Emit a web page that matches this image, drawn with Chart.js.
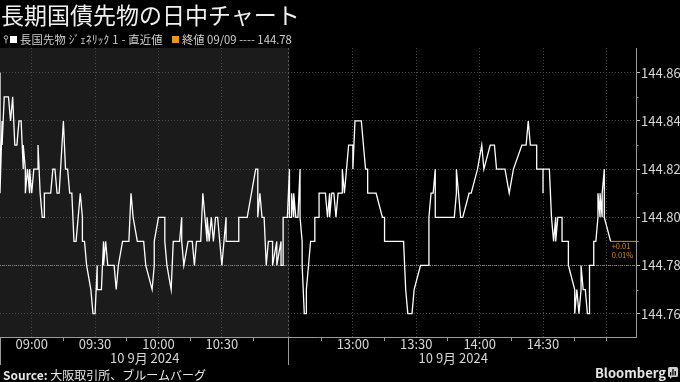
<!DOCTYPE html>
<html>
<head>
<meta charset="utf-8">
<script src="https://cdn.jsdelivr.net/npm/chart.js@4.4.1/dist/chart.umd.min.js"></script>
<style>
html,body{margin:0;padding:0;background:#000;}
#wrap{position:relative;width:680px;height:382px;overflow:hidden;background:#000;font-family:"Noto Sans CJK JP","Noto Sans",sans-serif;}
#c{position:absolute;left:0;top:0;}
.t{position:absolute;white-space:nowrap;}
#title{left:1px;top:0px;font-size:23px;line-height:28px;color:#f0f0f0;}
.leg{top:32px;font-size:11.3px;line-height:15px;color:#cfcfcf;}
#leg1{letter-spacing:0.2px;}
.sq{position:absolute;width:7px;height:7px;top:36px;}
#source{left:3px;top:368px;font-size:12px;line-height:14px;color:#e6e6e6;}
#source b{font-weight:700;}
#bbg{left:595px;top:365px;font-size:13px;line-height:16px;font-weight:700;color:#e6e6e6;}
</style>
</head>
<body>
<div id="wrap">
  <canvas id="c" width="680" height="382"></canvas>
  <div class="t" id="title">長期国債先物の日中チャート</div>
  <svg style="position:absolute;left:3px;top:35px" width="6" height="9" viewBox="0 0 6 9">
    <circle cx="3" cy="2.5" r="1.8" fill="none" stroke="#bdbdbd" stroke-width="1"/>
    <line x1="3" y1="4.3" x2="3" y2="8.5" stroke="#bdbdbd" stroke-width="1"/>
  </svg>
  <div class="sq" style="left:10px;background:#ffffff"></div>
  <div class="t leg" id="leg1" style="left:20px"></div>
  <div class="sq" style="left:172px;background:#e8961e"></div>
  <div class="t leg" id="leg2" style="left:182px"></div>
  <div class="t" id="source"><b>Source:</b> 大阪取引所、ブルームバーグ</div>
  <div class="t" id="bbg">Bloomberg</div>
  <svg style="position:absolute;left:668px;top:367px" width="10" height="12" viewBox="0 0 10 12">
    <rect x="0" y="0" width="10" height="10" rx="1.5" fill="#d0d0d0"/>
    <path d="M2 10 L2 12 L4 10 Z" fill="#d0d0d0"/>
    <rect x="2" y="5" width="1.3" height="3.5" fill="#000"/>
    <rect x="4.3" y="2" width="1.3" height="6.5" fill="#000"/>
    <rect x="6.6" y="4" width="1.3" height="4.5" fill="#000"/>
  </svg>
</div>
<script>
// ---- data ----
const seriesName = "長国先物 ｼﾞｪﾈﾘｯｸ 1 - 直近値";
const prevCloseDate = "09/09";
const prevClose = 144.78;
const sessionDate = "10 9月 2024";
const amSession = ["08:45", "11:02"];
const pmSession = ["12:30", "15:05"];
const axisEnd = "15:14";

const amTimes = ["08:45","08:45","08:46","08:46","08:47","08:49","08:50","08:51","08:52","08:53",
"08:54","08:55","08:56","08:56","08:57","08:57","08:58","08:59","08:59","09:00",
"09:01","09:03","09:03","09:04","09:05","09:06","09:06","09:09","09:10","09:11",
"09:12","09:13","09:15","09:16","09:17","09:18","09:19","09:20","09:21","09:22",
"09:23","09:24","09:24","09:25","09:26","09:28","09:29","09:30","09:31","09:31",
"09:33","09:34","09:34","09:35","09:36","09:39","09:40","09:41","09:43","09:46",
"09:47","09:48","09:50","09:53","09:54","09:57","09:58","09:58","10:00","10:03",
"10:03","10:04","10:06","10:07","10:10","10:11","10:11","10:12","10:14","10:16",
"10:17","10:18","10:20","10:21","10:22","10:23","10:23","10:24","10:25","10:26",
"10:27","10:28","10:30","10:32","10:32","10:38","10:38","10:42","10:46","10:47",
"10:47","10:48","10:49","10:50","10:51","10:52","10:54","10:54","10:56","10:56",
"10:58","10:58","10:59","10:59","11:01"];
const amValues = [144.86,144.81,144.84,144.83,144.85,144.85,144.84,144.85,144.83,144.83,
144.84,144.84,144.82,144.83,144.82,144.81,144.82,144.81,144.82,144.81,
144.82,144.82,144.83,144.81,144.80,144.80,144.81,144.81,144.82,144.82,
144.81,144.81,144.84,144.82,144.82,144.81,144.81,144.79,144.79,144.80,
144.81,144.80,144.79,144.79,144.78,144.77,144.76,144.76,144.78,144.77,
144.77,144.79,144.78,144.79,144.78,144.78,144.77,144.78,144.79,144.79,
144.81,144.80,144.79,144.79,144.78,144.77,144.78,144.79,144.80,144.80,
144.79,144.78,144.77,144.79,144.79,144.80,144.79,144.78,144.79,144.79,
144.78,144.79,144.79,144.81,144.80,144.79,144.80,144.79,144.80,144.79,
144.80,144.80,144.78,144.80,144.79,144.79,144.80,144.80,144.82,144.82,
144.80,144.81,144.80,144.80,144.78,144.79,144.79,144.78,144.79,144.78,
144.79,144.78,144.78,144.80,144.80];

const pmTimes = ["12:30","12:30","12:31","12:31","12:32","12:32","12:33","12:34","12:35","12:35",
"12:36","12:36","12:37","12:38","12:38","12:39","12:40","12:42","12:42","12:44",
"12:44","12:47","12:48","12:49","12:49","12:50","12:51","12:52","12:53","12:55",
"12:55","12:56","12:57","12:58","13:00","13:00","13:01","13:04","13:05","13:06",
"13:07","13:07","13:11","13:14","13:15","13:15","13:24","13:25","13:26","13:28",
"13:29","13:32","13:36","13:36","13:37","13:38","13:39","13:39","13:48","13:49",
"13:49","13:50","13:51","13:52","13:55","13:56","13:59","14:01","14:02","14:05",
"14:07","14:08","14:12","14:14","14:16","14:20","14:22","14:23","14:24","14:27",
"14:27","14:30","14:30","14:30","14:33","14:34","14:35","14:36","14:36","14:37",
"14:39","14:39","14:42","14:42","14:45","14:45","14:46","14:47","14:48","14:48",
"14:49","14:50","14:51","14:52","14:52","14:54","14:54","14:55","14:56","14:56",
"14:57","14:57","14:58","14:58","14:59","14:59","15:02"];
const pmValues = [144.82,144.80,144.80,144.81,144.80,144.81,144.80,144.80,144.82,144.80,
144.79,144.78,144.76,144.76,144.77,144.78,144.79,144.79,144.80,144.80,
144.81,144.81,144.80,144.81,144.80,144.81,144.81,144.80,144.81,144.81,
144.82,144.81,144.82,144.83,144.83,144.82,144.84,144.84,144.83,144.82,
144.82,144.81,144.81,144.80,144.80,144.79,144.79,144.77,144.76,144.76,
144.77,144.78,144.78,144.80,144.81,144.81,144.82,144.80,144.80,144.81,
144.82,144.81,144.80,144.80,144.81,144.81,144.82,144.83,144.82,144.83,
144.83,144.82,144.82,144.81,144.82,144.83,144.83,144.84,144.83,144.83,
144.82,144.82,144.81,144.82,144.82,144.80,144.79,144.80,144.79,144.80,
144.80,144.79,144.79,144.78,144.77,144.76,144.77,144.76,144.77,144.78,
144.77,144.77,144.76,144.76,144.78,144.78,144.79,144.79,144.80,144.81,
144.80,144.81,144.80,144.81,144.82,144.80,144.79];

const xTickTimes = ["09:00","09:15","09:30","09:45","10:00","10:15","10:30","10:45",
"12:45","13:00","13:15","13:30","13:45","14:00","14:15","14:30","14:45","15:00"];
const xTickLabels = ["09:00","09:30","10:00","10:30","13:00","13:30","14:00","14:30"];
const yTickValues = [144.76,144.77,144.78,144.79,144.80,144.81,144.82,144.83,144.84,144.85,144.86];
const yTickLabels = ["144.76","144.78","144.80","144.82","144.84","144.86"];
const yMin = 144.7503, yMax = 144.8703;

// ---- helpers ----
const FONT = '"Noto Sans CJK JP", "Noto Sans", sans-serif';
const TXT = '#d6d6d6';
const GRID = '#4a4a4a';
const ORANGE = '#d88a26';
function minutesOf(t){ const p = t.split(':').map(Number); return p[0]*60 + p[1]; }
function toX(t){
  const m = minutesOf(t);
  const a0 = minutesOf(amSession[0]), a1 = minutesOf(amSession[1]), p0 = minutesOf(pmSession[0]);
  return m < p0 ? m - a0 : (a1 - a0) + (m - p0);
}
function yLabel(v){ const s = v.toFixed(2); return yTickLabels.includes(s) ? s : ''; }

const pricePts = amTimes.map((t,i)=>({x: toX(t), y: amValues[i]}))
  .concat(pmTimes.map((t,i)=>({x: toX(t), y: pmValues[i]})));
const last = pricePts[pricePts.length-1];
const xMax = toX(axisEnd);

document.getElementById('leg1').textContent = seriesName;
document.getElementById('leg2').textContent = '終値 ' + prevCloseDate + ' ---- ' + prevClose.toFixed(2);

const sessionsPlugin = {
  id: 'sessions',
  beforeDraw(chart){
    const {ctx, chartArea: a, scales: {x}} = chart;
    ctx.save();
    ctx.fillStyle = '#000';
    ctx.fillRect(0, 0, chart.width, chart.height);
    const x0 = x.getPixelForValue(toX(amSession[0]));
    const x1 = x.getPixelForValue(toX(amSession[1]));
    ctx.fillStyle = '#1b1b1b';
    ctx.fillRect(x0, a.top, x1 - x0, a.bottom - a.top);
    ctx.restore();
  },
  beforeDatasetsDraw(chart){
    const {ctx, chartArea: a, scales: {x}} = chart;
    const xb = Math.round(x.getPixelForValue(toX(amSession[1]))) - 0.5;
    ctx.save();
    ctx.strokeStyle = '#5a5a5a';
    ctx.lineWidth = 1;
    ctx.setLineDash([2,2]);
    ctx.beginPath(); ctx.moveTo(xb, a.top); ctx.lineTo(xb, a.bottom); ctx.stroke();
    ctx.restore();
  },
  afterDraw(chart){
    const {ctx, chartArea: a, scales: {x, y}} = chart;
    ctx.save();
    ctx.strokeStyle = '#9a9a9a';
    ctx.lineWidth = 1;
    [toX(amSession[0]), toX(amSession[1])].forEach(v => {
      const px = Math.round(x.getPixelForValue(v)) + (v === 0 ? 0.5 : -0.5);
      ctx.beginPath(); ctx.moveTo(px, a.bottom); ctx.lineTo(px, a.bottom + 28); ctx.stroke();
    });
    ctx.fillStyle = TXT;
    ctx.font = '13px ' + FONT;
    ctx.textAlign = 'center';
    ctx.textBaseline = 'middle';
    [amSession, pmSession].forEach(s => {
      const cx = (x.getPixelForValue(toX(s[0])) + x.getPixelForValue(toX(s[1]))) / 2;
      ctx.fillText(sessionDate, cx, a.bottom + 21);
    });
    ctx.strokeStyle = '#9a9a9a';
    yTickValues.forEach(v => {
      if (yLabel(v) === '') {
        const py = Math.round(y.getPixelForValue(v)) + 0.5;
        ctx.beginPath(); ctx.moveTo(a.right, py); ctx.lineTo(a.right + 2.5, py); ctx.stroke();
      }
    });
    const chg = last.y - prevClose;
    const pct = chg / prevClose * 100;
    const ly = y.getPixelForValue(last.y);
    ctx.fillStyle = ORANGE;
    ctx.font = '7.5px ' + FONT;
    ctx.textAlign = 'left';
    ctx.fillText((chg >= 0 ? '+' : '') + chg.toFixed(2), x.getPixelForValue(last.x) + 1, ly + 5);
    ctx.fillText(pct.toFixed(2) + '%', x.getPixelForValue(last.x) + 1, ly + 14);
    ctx.restore();
  }
};

new Chart(document.getElementById('c'), {
  type: 'line',
  data: {
    datasets: [
      { label: seriesName, data: pricePts, borderColor: '#ffffff', borderWidth: 1.3,
        pointRadius: 0, tension: 0, order: 0 },
      { label: 'prev', data: [{x: 0, y: prevClose}, {x: xMax, y: prevClose}],
        borderColor: '#c8801e', borderWidth: 1, borderDash: [1, 1], pointRadius: 0, order: 2 },
      { label: 'last', data: [{x: last.x, y: last.y}, {x: xMax, y: last.y}],
        borderColor: ORANGE, borderWidth: 1, pointRadius: 0, order: 1 }
    ]
  },
  options: {
    responsive: false,
    animation: false,
    devicePixelRatio: 1,
    layout: { padding: { top: 48, left: 0, right: 0, bottom: 0 } },
    plugins: { legend: { display: false }, tooltip: { enabled: false } },
    scales: {
      x: {
        type: 'linear', min: 0, max: xMax,
        afterFit: s => { s.height = 45; },
        afterBuildTicks: s => { s.ticks = xTickTimes.map(t => ({ value: toX(t) })); },
        ticks: {
          autoSkip: false, maxRotation: 0, minRotation: 0, padding: -3,
          color: TXT, font: { family: FONT, size: 13, lineHeight: 1 },
          callback: (v, i) => xTickLabels.includes(xTickTimes[i]) ? xTickTimes[i] : ''
        },
        grid: {
          lineWidth: 1, tickLength: 4,
          color: c => (c.index !== undefined && xTickTimes[c.index] && minutesOf(xTickTimes[c.index]) % 30 === 0) ? GRID : 'rgba(0,0,0,0)',
          tickColor: c => (c.index !== undefined && xTickTimes[c.index] && !xTickLabels.includes(xTickTimes[c.index])) ? '#9a9a9a' : 'rgba(0,0,0,0)'
        },
        border: { color: '#9a9a9a', width: 1, dash: [1, 2] }
      },
      y: {
        position: 'right', min: yMin, max: yMax,
        afterFit: s => { s.width = 44; },
        afterBuildTicks: s => { s.ticks = yTickValues.map(v => ({ value: v })); },
        ticks: {
          autoSkip: false, padding: 1, color: TXT,
          font: { family: FONT, size: 13 },
          callback: v => yLabel(v)
        },
        grid: {
          lineWidth: 1, tickLength: 4,
          color: c => (c.tick && yLabel(c.tick.value) !== '') ? GRID : 'rgba(0,0,0,0)',
          tickColor: c => (c.tick && yLabel(c.tick.value) !== '') ? '#bdbdbd' : 'rgba(0,0,0,0)'
        },
        border: { color: '#9a9a9a', width: 1, dash: [1, 2] }
      }
    }
  },
  plugins: [sessionsPlugin]
});
</script>
</body>
</html>
